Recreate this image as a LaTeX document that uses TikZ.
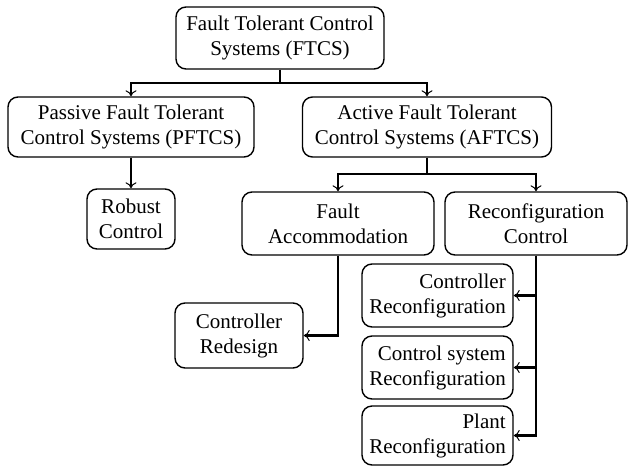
\documentclass[tikz,border=0pt]{standalone}
\usepackage{fontspec}
\setmainfont{Liberation Serif}
\usetikzlibrary{arrows.meta}
\tikzset{
  box/.style={draw, line width=1.4pt, rounded corners=10pt, inner sep=4pt,
    align=center, font=\fontsize{21}{25}\selectfont},
  rbox/.style={box, align=right},
  link/.style={line width=2.4pt},
  arr/.style={-{To[length=6pt,width=11pt,line width=1pt]}}
}
\begin{document}
\begin{tikzpicture}[x=1pt,y=-1pt]
      \useasboundingbox (0,0) rectangle (628,466);
      \draw
        (280,38) node[box,minimum width=208pt,minimum height=62pt] (ftcs){Fault Tolerant Control\\Systems (FTCS)}
        (131,127) node[box,minimum width=246pt,minimum height=60pt] (pftcs){Passive Fault Tolerant\\Control Systems (PFTCS)}
        (427,127) node[box,minimum width=249pt,minimum height=60pt] (aftcs){Active Fault Tolerant\\Control Systems (AFTCS)}
        (131,219) node[box,minimum width=88pt,minimum height=60pt] (robust){Robust\\Control}
        (338,223.5) node[box,minimum width=192pt,minimum height=63pt] (accom){Fault\\Accommodation}
        (536,223.5) node[box,minimum width=182pt,minimum height=63pt] (reconf){Reconfiguration\\Control}
        (239,335.5) node[box,minimum width=128pt,minimum height=65pt] (redesign){Controller\\Redesign}
        (437.5,295.5) node[rbox,minimum width=151pt,minimum height=63pt] (ctrlrec){Controller\\Reconfiguration}
        (437.5,367.5) node[rbox,minimum width=151pt,minimum height=63pt] (sysrec){Control system\\Reconfiguration}
        (437.5,435.5) node[rbox,minimum width=151pt,minimum height=59pt] (plantrec){Plant\\Reconfiguration};
      \coordinate (j1) at (280,83);
      \coordinate (j2) at (427,174);
      \begin{scope}[link]
        \draw (ftcs) to (j1);
        \draw[arr] (j1) -| (pftcs);
        \draw[arr] (j1) -| (aftcs);
        \draw[arr] (pftcs) to (robust);
        \draw (aftcs) to (j2);
        \draw[arr] (j2) -| (accom);
        \draw[arr] (j2) -| (reconf);
        \draw[arr] (accom) |- (redesign);
        \draw[arr] (reconf) |- (ctrlrec);
        \draw[arr] (reconf) |- (sysrec);
        \draw[arr] (reconf) |- (plantrec);
      \end{scope}
    \end{tikzpicture}
\end{document}
